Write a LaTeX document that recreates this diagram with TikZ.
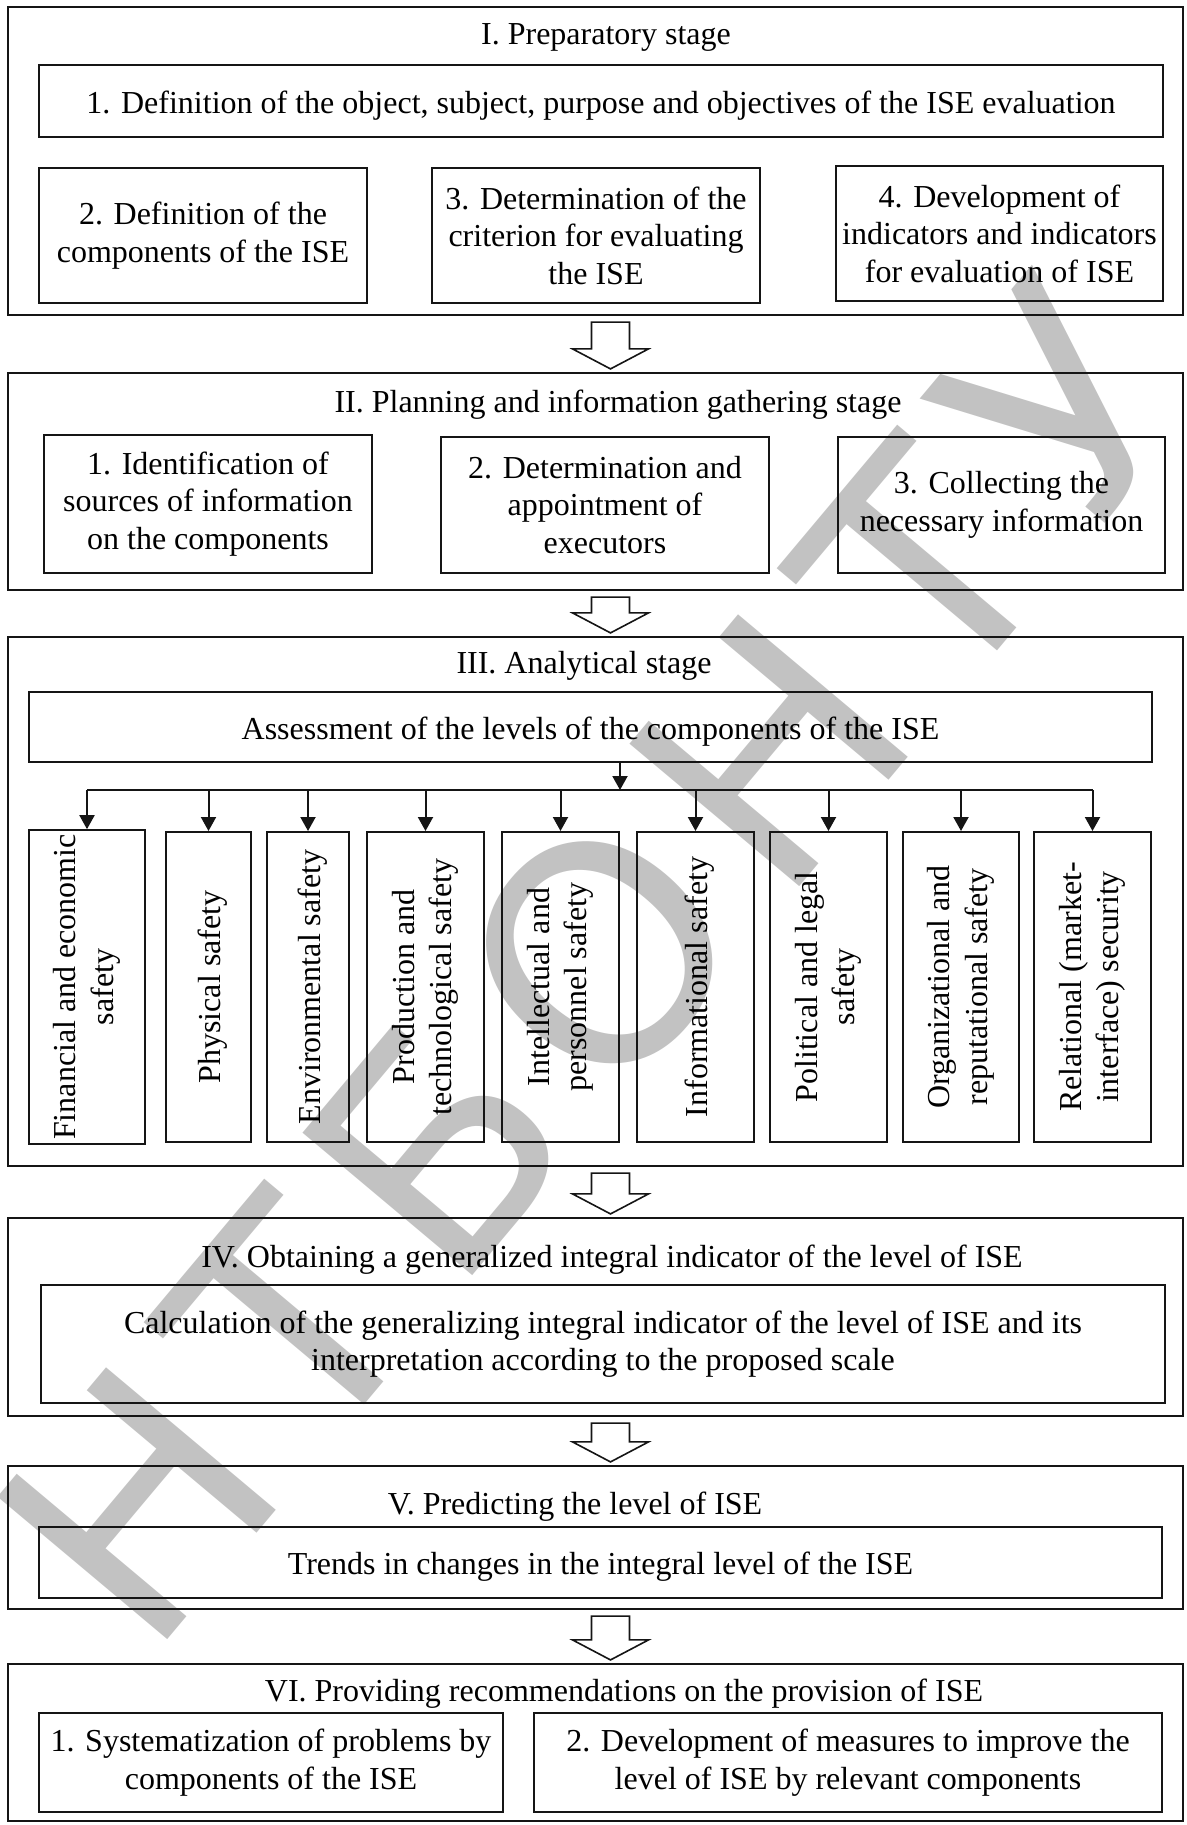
\documentclass[tikz,border=0pt]{standalone}
\usepackage{fontspec}
\setmainfont{Liberation Serif}
\newfontfamily\markfont[LetterSpace=10]{DejaVu Sans}
\usetikzlibrary{arrows.meta,calc}
\definecolor{StageLine}{HTML}{151515}
\definecolor{MarkGray}{HTML}{C2C2C2}

\begin{document}
\begin{tikzpicture}[x=0.5pt,y=-0.5pt,
    every node/.style={font=\fontsize{16}{18.75}\selectfont},
    stage/.style={draw=StageLine,line width=1.1pt,minimum width=587.5pt,inner sep=0pt},
    plainbox/.style={draw=StageLine,line width=1pt,align=center,inner sep=2pt},
    box/.style={plainbox,execute at begin node={\rule{0pt}{15.5pt}}},
    vbox/.style={box,rotate=90,minimum width=155pt},
    stagetitle/.style={anchor=base},
    tip/.style={draw=StageLine,line width=1pt,-{Triangle[length=7pt,width=7.5pt]}},
    bigarrow/.style={draw=StageLine,line width=0.8pt}]
  \useasboundingbox (0,0) rectangle (1187,1825);

  \node[text=MarkGray,rotate=50,font=\markfont\fontsize{152}{152}\selectfont] (mark) at (592,962) {НТБОНТУ};

  % stage frames
  \node[stage,minimum height=154pt] (f1) at (595.5,161) {};
  \node[stage,minimum height=108.5pt] (f2) at (595.5,481.5) {};
  \node[stage,minimum height=264.5pt] (f3) at (595.5,901.5) {};
  \node[stage,minimum height=99pt] (f4) at (595.5,1317) {};
  \node[stage,minimum height=71.5pt] (f5) at (595.5,1537.5) {};
  \node[stage,minimum height=78.5pt] (f6) at (595.5,1742.5) {};

  \node[stagetitle] (t1) at (606,45) {I. Preparatory stage};
  \node[stagetitle] (t2) at (618,412) {II. Planning and information gathering stage};
  \node[stagetitle] (t3) at (584,673) {III. Analytical stage};
  \node[stagetitle] (t4) at (612,1267) {IV. Obtaining a generalized integral indicator of the level of ISE};
  \node[stagetitle] (t5) at (575,1514) {V. Predicting the level of ISE};
  \node[stagetitle] (t6) at (624,1701) {VI. Providing recommendations on the provision of ISE};

  % I
  \node[box,minimum width=562pt,minimum height=36pt] (p1) at (601,101)
    {1. Definition of the object, subject, purpose and objectives of the ISE evaluation};
  \node[box,minimum width=164pt,minimum height=67.5pt] (p2) at (203,235.5)
    {2. Definition of the\\components of the ISE};
  \node[plainbox,minimum width=164pt,minimum height=67.5pt] (p3) at (596,235.5)
    {3. Determination of the\\criterion for evaluating\\the ISE};
  \node[plainbox,minimum width=163.5pt,minimum height=67.5pt] (p4) at (999.5,233.5)
    {4. Development of\\indicators and indicators\\for evaluation of ISE};

  % II
  \node[box,minimum width=164pt,minimum height=69pt] (g1) at (208,504)
    {1. Identification of\\sources of information\\on the components};
  \node[box,minimum width=164pt,minimum height=68pt] (g2) at (605,505)
    {2. Determination and\\appointment of\\executors};
  \node[box,minimum width=163.5pt,minimum height=68pt] (g3) at (1001.5,505)
    {3. Collecting the\\necessary information};

  % III
  \node[box,minimum width=561.5pt,minimum height=35pt] (assess) at (590.5,727)
    {Assessment of the levels of the components of the ISE};
  \node[vbox,minimum height=58pt] (c1) at (87,987) {Financial and economic\\safety};
  \node[vbox,minimum height=42.5pt] (c2) at (208.5,987) {Physical safety};
  \node[vbox,minimum height=41pt] (c3) at (308,987) {Environmental safety};
  \node[vbox,minimum height=58.5pt] (c4) at (425.5,987) {Production and\\technological safety};
  \node[vbox,minimum height=58.5pt] (c5) at (560.5,987) {Intellectual and\\personnel safety};
  \node[vbox,minimum height=58.5pt] (c6) at (695.5,987) {Informational safety};
  \node[vbox,minimum height=58.5pt] (c7) at (828.5,987) {Political and legal\\safety};
  \node[vbox,minimum height=58pt] (c8) at (961,987) {Organizational and\\reputational safety};
  \node[vbox,minimum height=58.5pt] (c9) at (1092.5,987) {Relational (market-\\interface) security};

  \coordinate (split) at (620,790);
  \draw[tip] (assess.south -| split) -- (split);
  \draw[StageLine,line width=1pt] (split -| c1.east) -- (split -| c9.east);
  \foreach \i in {1,...,9}
    \draw[tip] (split -| c\i.east) -- (c\i.east);

  % IV - VI
  \node[box,minimum width=562pt,minimum height=59pt] (calc) at (603,1344)
    {Calculation of the generalizing integral indicator of the level of ISE and its\\interpretation according to the proposed scale};
  \node[box,minimum width=561.5pt,minimum height=35.5pt] (trend) at (600.5,1562.5)
    {Trends in changes in the integral level of the ISE};
  \node[box,minimum width=232pt,minimum height=49.5pt] (r1) at (271,1762.5)
    {1. Systematization of problems by\\components of the ISE};
  \node[box,minimum width=314pt,minimum height=49.5pt] (r2) at (848,1762.5)
    {2. Development of measures to improve the\\level of ISE by relevant components};

  \foreach \a/\b in {f1/f2,f2/f3,f3/f4,f4/f5,f5/f6}
    \draw[bigarrow] ($(\a.south)+(-4,6)$) -- ($(\a.south)+(34,6)$) -- ($(\b.north)+(34,-23)$)
      -- ($(\b.north)+(53,-23)$) -- ($(\b.north)+(15,-3)$) -- ($(\b.north)+(-23,-23)$)
      -- ($(\b.north)+(-4,-23)$) -- cycle;
\end{tikzpicture}
\end{document}
